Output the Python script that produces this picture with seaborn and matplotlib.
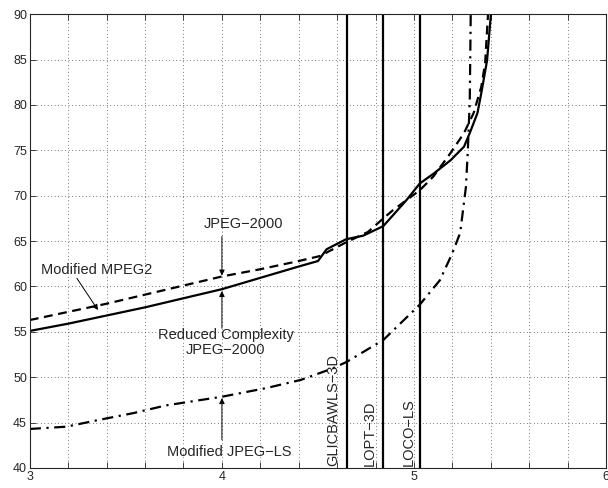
import numpy as np
import pandas as pd
import matplotlib
matplotlib.use("Agg")
import matplotlib.pyplot as plt
import seaborn as sns
from matplotlib.ticker import MultipleLocator

# curves
x_rc = [3.0, 3.2, 3.4, 3.6, 3.8, 4.0, 4.2, 4.4, 4.50, 4.545, 4.646, 4.736, 4.84,
        4.96, 5.03, 5.10, 5.19, 5.26, 5.29, 5.33, 5.35, 5.38, 5.40]
y_rc = [55.1, 55.9, 56.8, 57.7, 58.7, 59.7, 60.95, 62.2, 62.8, 64.1, 65.2, 65.6, 66.65,
        69.5, 71.35, 72.4, 73.9, 75.4, 76.9, 79.1, 81.3, 84.9, 90.0]

x_j2k = [3.0, 3.2, 3.4, 3.6, 3.8, 4.0, 4.2, 4.4, 4.51, 4.65, 4.76, 4.84, 4.89,
         5.03, 5.10, 5.19, 5.26, 5.31, 5.35, 5.37, 5.385]
y_j2k = [56.3, 57.2, 58.1, 59.1, 60.1, 61.1, 61.9, 62.8, 63.35, 64.9, 66.0, 67.5, 68.4,
         70.6, 72.1, 74.7, 76.9, 79.1, 82.0, 84.6, 90.0]

x_jls = [3.0, 3.19, 3.36, 3.54, 3.71, 4.0, 4.23, 4.41, 4.58, 4.65, 4.84, 5.03,
         5.135, 5.20, 5.24, 5.27, 5.28, 5.29, 5.295]
y_jls = [44.3, 44.55, 45.3, 46.05, 46.9, 47.85, 48.8, 49.7, 51.0, 51.7, 54.1, 58.0,
         60.7, 63.7, 65.9, 70.95, 75.0, 80.5, 90.0]

# reference coders drawn as vertical lines
ref_names = ["GLICBAWLS\u22123D", "LOPT\u22123D", "LOCO\u2212LS"]
ref_x = [4.65, 4.84, 5.03]

sns.set_style("ticks")
plt.rcParams['font.family'] = ['Liberation Sans', 'DejaVu Sans']

fig = plt.figure(figsize=(6.08, 4.88), dpi=100)
ax = fig.add_axes([0.049, 0.041, 0.948, 0.930])

sns.lineplot(x=x_rc, y=y_rc, ax=ax, color='k', lw=1.6, sort=False, estimator=None)
sns.lineplot(x=x_j2k, y=y_j2k, ax=ax, color='k', lw=1.6, sort=False, estimator=None,
             linestyle=(0, (4, 2.5)))
sns.lineplot(x=x_jls, y=y_jls, ax=ax, color='k', lw=1.6, sort=False, estimator=None,
             linestyle=(0, (5, 2.5, 1, 2.5)))

for xv in ref_x:
    ax.axvline(xv, color='k', lw=1.6)

ax.set_xlim(3, 6)
ax.set_ylim(40, 90)
ax.xaxis.set_major_locator(MultipleLocator(1))
ax.xaxis.set_minor_locator(MultipleLocator(0.2))
ax.yaxis.set_major_locator(MultipleLocator(5))
ax.grid(True, which='both', axis='x', color='k', ls=(0, (1, 4)), lw=0.5)
ax.grid(True, which='major', axis='y', color='k', ls=(0, (1, 4)), lw=0.5)
ax.tick_params(which='both', direction='in', top=True, right=True, labelsize=9,
               length=4, width=0.6, pad=2)
ax.tick_params(which='minor', length=4)
for s in ax.spines.values():
    s.set_linewidth(0.8)

fs = 10.5
arrow = dict(arrowstyle='-|>', color='k', lw=0.7, mutation_scale=8, shrinkA=0, shrinkB=0)

ax.text(4.11, 66.9, "JPEG\u22122000", ha='center', va='center', fontsize=fs)
ax.annotate("", xy=(4.0, 61.2), xytext=(4.0, 65.5), arrowprops=arrow)

ax.text(3.35, 61.8, "Modified MPEG2", ha='center', va='center', fontsize=fs)
ax.annotate("", xy=(3.355, 57.4), xytext=(3.245, 60.9), arrowprops=arrow)

ax.text(4.02, 53.8, "Reduced Complexity\nJPEG\u22122000", ha='center', va='center',
        fontsize=fs, linespacing=1.05)
ax.annotate("", xy=(4.0, 59.5), xytext=(4.0, 55.4), arrowprops=arrow)

ax.text(4.04, 41.8, "Modified JPEG\u2212LS", ha='center', va='center', fontsize=fs)
ax.annotate("", xy=(4.0, 47.7), xytext=(4.0, 43.1), arrowprops=arrow)

label_x = [4.58, 4.77, 4.97]
for name, lx in zip(ref_names, label_x):
    ax.text(lx, 40.2, name, rotation=90, ha='center', va='bottom', fontsize=fs)

ax.set_xlabel("")
ax.set_ylabel("")
fig.savefig("out.png", dpi=100)
